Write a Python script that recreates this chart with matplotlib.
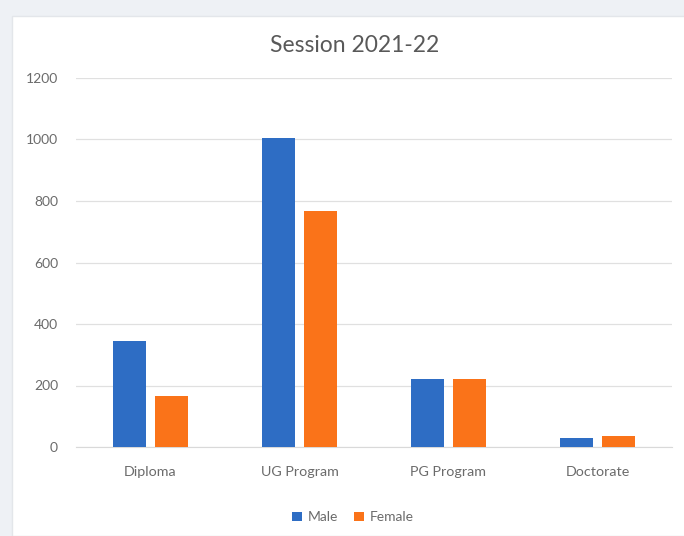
import matplotlib.pyplot as plt
from matplotlib.patches import Rectangle
import numpy as np

categories = ['Diploma', 'UG Program', 'PG Program', 'Doctorate']
male = [345, 1005, 220, 30]
female = [166, 768, 220, 36]
yticks = [0, 200, 400, 600, 800, 1000, 1200]

plt.rcParams['font.family'] = ['Lato', 'DejaVu Sans']

fig = plt.figure(figsize=(6.84, 5.36), dpi=100)
fig.set_facecolor('#eef1f5')
# white chart area behind everything
fig.patches.append(Rectangle((12 / 684, 0), 1, (536 - 16) / 536,
                             transform=fig.transFigure, facecolor='white',
                             edgecolor='#e3e6ea', linewidth=1, zorder=-10))

ax = fig.add_axes([76 / 684, 89 / 536, 596 / 684, 369 / 536])
ax.set_facecolor('white')

x = np.arange(len(categories))
w = 0.228
ax.bar(x - 0.141, male, w, color='#2e6dc4', label='Male', zorder=3)
ax.bar(x + 0.141, female, w, color='#fa7319', label='Female', zorder=3)

ax.set_xlim(-0.5, len(categories) - 0.5)
ax.set_ylim(0, 1200)
ax.set_yticks(yticks)
ax.set_yticklabels([str(v) for v in yticks], fontsize=10, color='#6b6b6b')
ax.set_xticks(x)
ax.set_xticklabels(categories, fontsize=10.3, color='#6b6b6b')
ax.tick_params(length=0)
ax.tick_params(axis='x', pad=14)
ax.tick_params(axis='y', pad=13)
ax.grid(axis='y', color='#e0e0e0', linewidth=0.9, zorder=0)
for s in ['top', 'right', 'left']:
    ax.spines[s].set_visible(False)
ax.spines['bottom'].set_color('#d9d9d9')

fig.text(0.518, 0.916, 'Session 2021-22', ha='center', va='center',
         fontsize=16.5, color='#595959')

fig.legend(loc='center', bbox_to_anchor=(0.516, 0.035), ncol=2, frameon=False,
           fontsize=10, handlelength=0.7, handleheight=0.7, columnspacing=1.2,
           handletextpad=0.4, labelcolor='#6b6b6b')

fig.savefig('out.png', dpi=100, facecolor=fig.get_facecolor())
